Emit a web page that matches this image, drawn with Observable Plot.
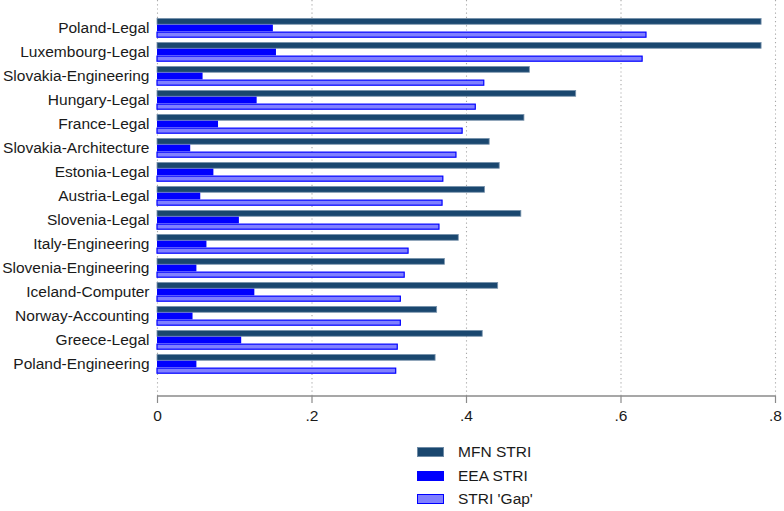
<!DOCTYPE html>
<html>
<head>
<meta charset="utf-8">
<script src="https://cdn.jsdelivr.net/npm/d3@7"></script>
<script src="https://cdn.jsdelivr.net/npm/@observablehq/plot@0.6"></script>
<style>
  body { margin: 0; background: #fff; font-family: "Liberation Sans", Arial, sans-serif; }
  #wrap { position: relative; width: 784px; height: 511px; overflow: hidden; }
  #legend { position: absolute; left: 417px; top: 446px; font-size: 15.5px; color: #1a1a1a; }
  .row { position: relative; height: 23.6px; }
  .key { position: absolute; left: 0; top: 1px; width: 27px; height: 10px; box-sizing: border-box; }
  .lab { position: absolute; left: 41px; top: -2px; white-space: nowrap; line-height: 16px; }
</style>
</head>
<body>
<div id="wrap"><div id="chart"></div><div id="legend"></div></div>
<script>
const categories = [
  "Poland-Legal", "Luxembourg-Legal", "Slovakia-Engineering", "Hungary-Legal", "France-Legal",
  "Slovakia-Architecture", "Estonia-Legal", "Austria-Legal", "Slovenia-Legal", "Italy-Engineering",
  "Slovenia-Engineering", "Iceland-Computer", "Norway-Accounting", "Greece-Legal", "Poland-Engineering"
];
const mfnSTRI = [0.782, 0.782, 0.482, 0.542, 0.475, 0.430, 0.443, 0.424, 0.471, 0.390, 0.372, 0.441, 0.362, 0.421, 0.360];
const eeaSTRI = [0.150, 0.154, 0.059, 0.129, 0.079, 0.043, 0.073, 0.056, 0.106, 0.064, 0.051, 0.126, 0.046, 0.109, 0.051];
const gapSTRI = [0.633, 0.628, 0.423, 0.412, 0.395, 0.387, 0.370, 0.369, 0.365, 0.325, 0.320, 0.315, 0.315, 0.311, 0.309];
const xTicks = [0, 0.2, 0.4, 0.6, 0.8];
const seriesNames = ["MFN STRI", "EEA STRI", "STRI 'Gap'"];

const rows = categories.map((c, i) => ({cat: c, mfn: mfnSTRI[i], eea: eeaSTRI[i], gap: gapSTRI[i]}));
const third = 20 / 3;

const axisLine = (index, scales, values, dims) => {
  const yy = dims.height - dims.marginBottom;
  return d3.create("svg:line")
    .attr("x1", dims.marginLeft).attr("x2", dims.width - dims.marginRight)
    .attr("y1", yy).attr("y2", yy)
    .attr("stroke", "#8a8a8a").attr("stroke-width", 1.5).node();
};

const chart = Plot.plot({
  width: 784,
  height: 430,
  marginTop: 0,
  marginBottom: 34,
  marginLeft: 157,
  marginRight: 9,
  style: {fontFamily: "'Liberation Sans', Arial, sans-serif", background: "#fff", overflow: "visible"},
  x: {domain: [0, 0.8], label: null},
  y: {domain: categories, range: [17.3, 374.3], paddingInner: 0.17, paddingOuter: 0, label: null},
  marks: [
    Plot.gridX(xTicks, {stroke: "#a8a8a8", strokeOpacity: 1, strokeDasharray: "1.2,3", strokeWidth: 1.1}),
    Plot.barX(rows, {x: "mfn", y: "cat", fill: "#1a476f", stroke: "#7a94ad", strokeWidth: 0.8, insetTop: 0.4, insetBottom: 2 * third + 0.4}),
    Plot.barX(rows, {x: "eea", y: "cat", fill: "#0000ff", insetTop: third, insetBottom: third}),
    Plot.barX(rows, {x: "gap", y: "cat", fill: "#8080ff", stroke: "#0000ff", strokeWidth: 1.2, insetTop: 2 * third + 0.8, insetBottom: 0.8}),
    Plot.ruleX(categories, {x: 0, y: d => d, stroke: "#9a9a9a", strokeWidth: 1.2, insetTop: -2.1, insetBottom: -2.1}),
    axisLine,
    Plot.axisX({ticks: xTicks, tickFormat: d => d === 0 ? "0" : String(d).replace(/^0/, ""), tickSize: 7, tickPadding: 6, fontSize: 15.5, stroke: "#8a8a8a", strokeWidth: 1.2, color: "#1a1a1a", label: null}),
    Plot.axisY({tickSize: 0, tickPadding: 8, fontSize: 15.5, color: "#1a1a1a", label: null})
  ]
});
document.getElementById("chart").appendChild(chart);

const keyStyles = [
  {background: "#1a476f", border: "1px solid #6f8ba6"},
  {background: "#0000ff", border: "1px solid #0000ff"},
  {background: "#8080ff", border: "1.5px solid #0000ff"}
];
const legend = d3.select("#legend");
seriesNames.forEach((name, i) => {
  const r = legend.append("div").attr("class", "row");
  r.append("div").attr("class", "key")
    .style("background", keyStyles[i].background)
    .style("border", keyStyles[i].border);
  r.append("div").attr("class", "lab").text(name);
});
</script>
</body>
</html>
